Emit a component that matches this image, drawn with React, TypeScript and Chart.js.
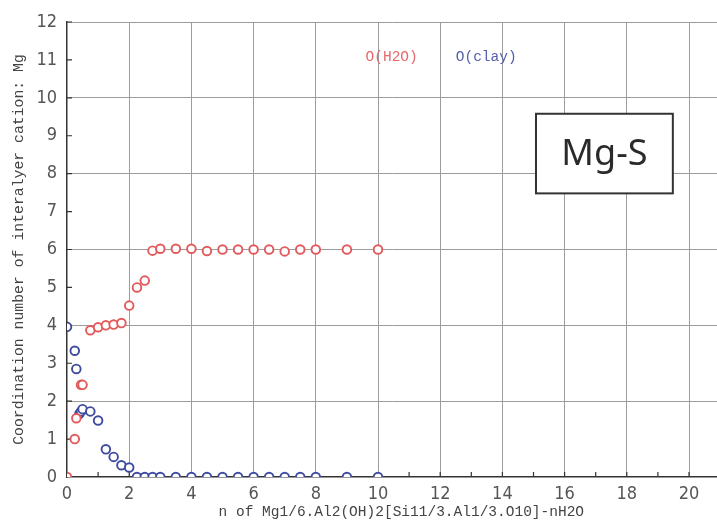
import React, { useEffect, useRef } from "react";
import { Chart, registerables } from "chart.js";

Chart.register(...registerables);

// n (water molecules per formula unit) and Mg coordination numbers
const nWater = [0, 0.25, 0.3, 0.45, 0.5, 0.75, 1, 1.25, 1.5, 1.75, 2, 2.25, 2.5, 2.75, 3, 3.5, 4, 4.5, 5, 5.5, 6, 6.5, 7, 7.5, 8, 9, 10];
const cnWater = [0, 1.0, 1.55, 2.43, 2.43, 3.87, 3.95, 4.0, 4.02, 4.06, 4.52, 5.0, 5.18, 5.97, 6.02, 6.02, 6.02, 5.96, 6.0, 6.0, 6.0, 6.0, 5.95, 6.0, 6.0, 6.0, 6.0];

const nClay = [0, 0.25, 0.3, 0.4, 0.45, 0.5, 0.75, 1, 1.25, 1.5, 1.75, 2, 2.25, 2.5, 2.75, 3, 3.5, 4, 4.5, 5, 5.5, 6, 6.5, 7, 7.5, 8, 9, 10];
const cnClay = [3.96, 3.33, 2.85, 1.67, 1.73, 1.79, 1.73, 1.49, 0.73, 0.53, 0.31, 0.25, 0, 0, 0, 0, 0, 0, 0, 0, 0, 0, 0, 0, 0, 0, 0, 0];

// tick positions on both axes (labels only on even n)
const xTickValues = [0, 1, 2, 3, 4, 5, 6, 7, 8, 9, 10, 11, 12, 13, 14, 15, 16, 17, 18, 19, 20];
const yTickValues = [0, 1, 2, 3, 4, 5, 6, 7, 8, 9, 10, 11, 12];

const seriesNames = ["O(H2O)", "O(clay)"];
const sampleName = "Mg-S";
const xTitle = "n of Mg1/6.Al2(OH)2[Si11/3.Al1/3.O10]-nH2O";
const yTitle = "Coordination number of interalyer cation: Mg";

const X_MIN = 0;
const X_MAX = 20.9;
const Y_MIN = 0;
const Y_MAX = 12;

const WIDTH = 717;
const HEIGHT = 524;

const RED = "#e25a5c";
const BLUE = "#3f4b9e";
const MONO = "'Liberation Mono', 'DejaVu Sans Mono', monospace";
const NARROW = "'Liberation Sans Narrow', 'DejaVu Sans Condensed', sans-serif";

const toPoints = (xs: number[], ys: number[]) => xs.map((x, i) => ({ x, y: ys[i] }));

const evenGrid = (ctx: any) => {
  const v = ctx.tick ? ctx.tick.value : NaN;
  return v > 0 && Math.abs(v % 2) < 1e-9 ? "#9c9c9c" : "rgba(0,0,0,0)";
};

// plot area runs right up to the canvas edge
const fullWidthArea = {
  id: "fullWidthArea",
  afterLayout(chart: any) {
    const area = chart.chartArea;
    const xs = chart.scales.x;
    const right = chart.width;
    area.right = right;
    area.width = right - area.left;
    xs.right = right;
    xs.width = right - xs.left;
    xs.configure();
  },
};

// inner minor ticks, series captions, x title and the sample label box
const decorations = {
  id: "decorations",
  beforeDatasetsDraw(chart: any) {
    const { ctx, scales, chartArea } = chart;
    const xs = scales.x;
    const ys = scales.y;
    ctx.save();
    ctx.strokeStyle = "#333";
    ctx.lineWidth = 1.2;
    ctx.beginPath();
    for (const v of xTickValues) {
      if (v === 0) continue;
      const px = xs.getPixelForValue(v);
      ctx.moveTo(px, chartArea.bottom);
      ctx.lineTo(px, chartArea.bottom - 5);
    }
    for (const v of yTickValues) {
      if (v === 0) continue;
      const py = ys.getPixelForValue(v);
      ctx.moveTo(chartArea.left, py);
      ctx.lineTo(chartArea.left + 5, py);
    }
    ctx.stroke();
    ctx.restore();
  },
  afterDraw(chart: any) {
    const { ctx, scales } = chart;
    const xs = scales.x;
    const ys = scales.y;
    ctx.save();
    ctx.font = `14.5px ${MONO}`;
    ctx.textBaseline = "middle";
    ctx.textAlign = "left";
    ctx.fillStyle = "#e46a6c";
    ctx.fillText(seriesNames[0], xs.getPixelForValue(9.6), ys.getPixelForValue(11.08));
    ctx.fillStyle = "#5560ad";
    ctx.fillText(seriesNames[1], xs.getPixelForValue(12.5), ys.getPixelForValue(11.08));

    ctx.fillStyle = "#444";
    ctx.font = `14.5px ${MONO}`;
    ctx.textAlign = "center";
    ctx.fillText(xTitle, xs.getPixelForValue(10.75), 512);

    const bx0 = xs.getPixelForValue(15.08);
    const bx1 = xs.getPixelForValue(19.48);
    const by0 = ys.getPixelForValue(9.58);
    const by1 = ys.getPixelForValue(7.48);
    ctx.fillStyle = "#ffffff";
    ctx.fillRect(bx0, by0, bx1 - bx0, by1 - by0);
    ctx.strokeStyle = "#333";
    ctx.lineWidth = 2;
    ctx.strokeRect(bx0, by0, bx1 - bx0, by1 - by0);
    ctx.fillStyle = "#2a2a2a";
    ctx.font = `36px 'Noto Sans', 'DejaVu Sans', sans-serif`;
    ctx.textAlign = "center";
    ctx.textBaseline = "middle";
    ctx.fillText(sampleName, (bx0 + bx1) / 2, (by0 + by1) / 2 + 1);
    ctx.restore();
  },
};

export default function App() {
  const canvasRef = useRef<HTMLCanvasElement | null>(null);

  useEffect(() => {
    if (!canvasRef.current) return;
    const chart = new Chart(canvasRef.current, {
      type: "scatter",
      data: {
        datasets: [
          {
            label: seriesNames[0],
            data: toPoints(nWater, cnWater),
            borderColor: RED,
            backgroundColor: "#ffffff",
            pointRadius: 4.3,
            pointBorderWidth: 1.9,
            showLine: false,
          },
          {
            label: seriesNames[1],
            data: toPoints(nClay, cnClay),
            borderColor: BLUE,
            backgroundColor: "#ffffff",
            pointRadius: 4.3,
            pointBorderWidth: 1.9,
            showLine: false,
          },
        ],
      },
      options: {
        animation: false,
        responsive: false,
        devicePixelRatio: 1,
        layout: { padding: { top: 22, right: 0, left: 0, bottom: 0 } },
        plugins: {
          legend: { display: false },
          tooltip: { enabled: false },
        },
        scales: {
          x: {
            type: "linear",
            min: X_MIN,
            max: X_MAX,
            afterBuildTicks: (s: any) => {
              s.ticks = xTickValues.map((value) => ({ value }));
            },
            ticks: {
              autoSkip: false,
              maxRotation: 0,
              padding: 7,
              color: "#555",
              font: { family: NARROW, size: 18 },
              callback: (v: any) => (v % 2 === 0 ? String(v) : ""),
            },
            grid: { color: evenGrid, lineWidth: 1, drawTicks: false },
            border: { color: "#333", width: 1.5 },
            title: { display: false },
            afterFit: (s: any) => {
              s.height = 47;
              s.paddingLeft = 0;
              s.paddingRight = 0;
            },
          },
          y: {
            type: "linear",
            min: Y_MIN,
            max: Y_MAX,
            afterBuildTicks: (s: any) => {
              s.ticks = yTickValues.map((value) => ({ value }));
            },
            ticks: {
              autoSkip: false,
              padding: 10,
              color: "#555",
              font: { family: NARROW, size: 18 },
            },
            grid: { color: evenGrid, lineWidth: 1, drawTicks: false },
            border: { color: "#333", width: 1.5 },
            title: {
              display: true,
              text: yTitle,
              color: "#444",
              font: { family: MONO, size: 14.8 },
              padding: { top: 10, bottom: 0 },
            },
            afterFit: (s: any) => {
              s.width = 67;
            },
          },
        },
      },
      plugins: [fullWidthArea, decorations],
    });
    return () => chart.destroy();
  }, []);

  return (
    <div style={{ position: "fixed", left: 0, top: 0, width: WIDTH, height: HEIGHT, background: "#fff" }}>
      <canvas ref={canvasRef} width={WIDTH} height={HEIGHT} style={{ display: "block", width: WIDTH, height: HEIGHT }} />
    </div>
  );
}
